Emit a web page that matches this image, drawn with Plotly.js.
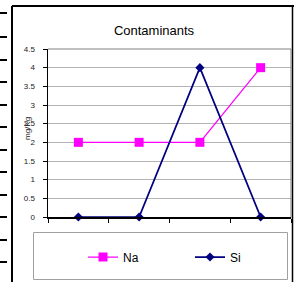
<!DOCTYPE html>
<html>
<head>
<meta charset="utf-8">
<script src="https://cdn.plot.ly/plotly-3.0.1.min.js"></script>
<style>html,body{margin:0;padding:0;background:#fff;}#chart{width:294px;height:282px;}</style>
</head>
<body>
<div id="chart"></div>
<script>
// Data
const categories = ["1", "2", "3", "4"];
const naValues = [2, 2, 2, 4];
const siValues = [0, 0, 4, 0];
const seriesNames = ["Na", "Si"];
const chartTitle = "Contaminants";
const yTitle = "mg/Kg";

// Layout geometry (pixels)
const W = 294, H = 282;
const PL = 48, PR = 291, PT = 49, PB = 217;
const px = x => (x - PL) / (PR - PL);
const py = y => (PB - y) / (PB - PT);

const traces = [
  {
    x: categories, y: naValues, name: seriesNames[0], type: "scatter", mode: "lines+markers",
    line: {color: "#FF00FF", width: 1.25},
    marker: {symbol: "square", size: 9, color: "#FF00FF"},
    cliponaxis: false, legendwidth: 62
  },
  {
    x: categories, y: siValues, name: seriesNames[1], type: "scatter", mode: "lines+markers",
    line: {color: "#000080", width: 1.75},
    marker: {symbol: "diamond", size: 7, color: "#000080"},
    cliponaxis: false, legendwidth: 12
  }
];

const shapes = [];
function line(x0, y0, x1, y1, color, width) {
  shapes.push({type: "line", xref: "paper", yref: "paper",
    x0: px(x0), y0: py(y0), x1: px(x1), y1: py(y1),
    line: {color: color, width: width}});
}
// spreadsheet cell marks on the left
[13, 37, 60, 82, 105, 127, 150, 172, 195, 217, 240, 262].forEach(y => line(0, y, 7, y, "#000", 2));
// chart outer border
line(12, 6, 12, 285, "#000", 2);
line(12, 6, 294, 6, "#000", 2);
line(292.5, 6, 292.5, 285, "#000", 1.5);
// plot area border top and right
line(PL, PT, PR, PT, "#808080", 1);
line(PR, PT, PR, PB, "#808080", 1);
// legend box
shapes.push({type: "rect", xref: "paper", yref: "paper",
  x0: px(33.5), y0: py(232.5), x1: px(287.5), y1: py(279.5),
  line: {color: "#a0a0a0", width: 1}, fillcolor: "rgba(0,0,0,0)"});

const layout = {
  width: W, height: H,
  margin: {l: PL, r: W - PR, t: PT, b: H - PB, pad: 0},
  paper_bgcolor: "#fff", plot_bgcolor: "#fff",
  font: {family: "Arial, Liberation Sans, sans-serif", color: "#000"},
  title: {text: chartTitle, font: {size: 13, color: "#000"},
    xref: "container", x: 154 / W, xanchor: "center",
    yref: "container", y: 1 - 30 / H, yanchor: "middle"},
  xaxis: {
    type: "category", range: [-0.5, 3.5], autorange: false,
    showticklabels: false, tickson: "boundaries",
    ticks: "outside", ticklen: 4, tickcolor: "#000", tickwidth: 1,
    showgrid: false, showline: true, linecolor: "#000", linewidth: 1.5,
    zeroline: false, fixedrange: true
  },
  yaxis: {
    range: [0, 4.5], autorange: false, dtick: 0.5, tick0: 0,
    ticks: "outside", ticklen: 4, tickcolor: "#000", tickwidth: 1,
    ticklabelstandoff: 6,
    tickfont: {size: 8, color: "#222"},
    showgrid: true, gridcolor: "#b4b4b4", gridwidth: 1,
    showline: true, linecolor: "#000", linewidth: 1.5, zeroline: false,
    fixedrange: true
  },
  annotations: [{
    text: yTitle, textangle: -90, showarrow: false,
    xref: "paper", yref: "paper", x: px(27), y: py(129),
    xanchor: "center", yanchor: "middle",
    font: {size: 8, color: "#222"}
  }],
  showlegend: true,
  legend: {
    orientation: "h", xref: "paper", yref: "paper",
    x: px(83), xanchor: "left", y: py(257), yanchor: "middle",
    bgcolor: "rgba(0,0,0,0)", borderwidth: 0,
    font: {size: 12, color: "#000"},
    entrywidthmode: "pixels"
  },
  shapes: shapes
};

Plotly.newPlot("chart", traces, layout, {staticPlot: true, displayModeBar: false});
</script>
</body>
</html>
